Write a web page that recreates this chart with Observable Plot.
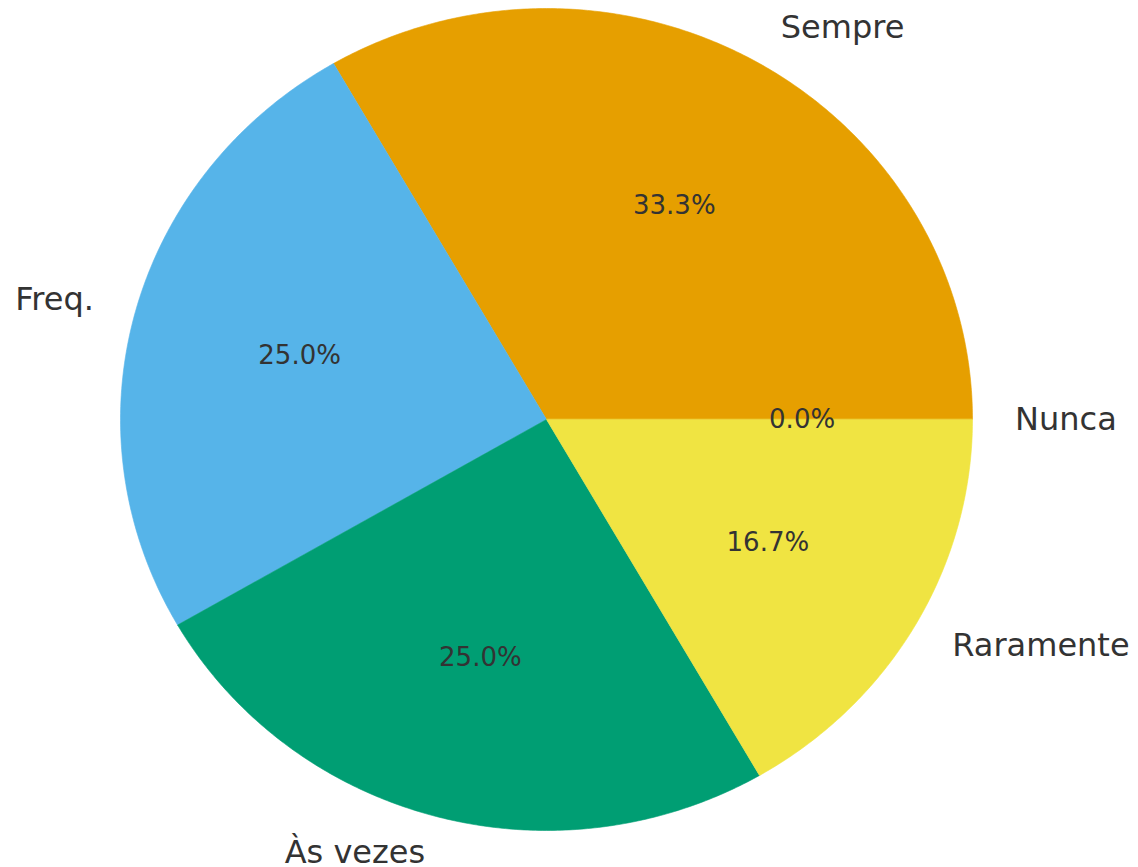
<!DOCTYPE html>
<html><head><meta charset="utf-8">
<script src="https://cdn.jsdelivr.net/npm/d3@7"></script>
<script src="https://cdn.jsdelivr.net/npm/@observablehq/plot@0.6"></script>
<style>body{margin:0;background:#fff} svg{display:block}</style>
</head><body><div id="chart"></div>
<script>
const categories = ["Nunca", "Sempre", "Freq.", "Às vezes", "Raramente"];
const values = [0, 4, 3, 3, 2];
const colors = ["#0072B2", "#E69F00", "#56B4E9", "#009E73", "#F0E442"];

const total = d3.sum(values);
const slices = [];
let acc = 0;
categories.forEach((c, i) => {
  const a0 = acc / total * 2 * Math.PI;
  acc += values[i];
  const a1 = acc / total * 2 * Math.PI;
  slices.push({cat: c, value: values[i], a0, a1, mid: (a0 + a1) / 2,
    pct: (values[i] / total * 100).toFixed(1) + "%"});
});

const poly = [];
for (const s of slices) {
  if (s.a1 <= s.a0) continue;
  poly.push({cat: s.cat, x: 0, y: 0});
  const n = Math.max(2, Math.ceil((s.a1 - s.a0) / (Math.PI / 360)));
  for (let k = 0; k <= n; k++) {
    const a = s.a0 + (s.a1 - s.a0) * k / n;
    poly.push({cat: s.cat, x: Math.cos(a), y: Math.sin(a)});
  }
}

const labels = slices.map(s => ({cat: s.cat, x: 1.1 * Math.cos(s.mid), y: 1.1 * Math.sin(s.mid), right: Math.cos(s.mid) >= 0}));
const pcts = slices.map(s => ({text: s.pct, x: 0.6 * Math.cos(s.mid), y: 0.6 * Math.sin(s.mid)}));

const W = 1138, H = 867, cx = 546, cy = 419, rx = 426, ry = 411;

const chart = Plot.plot({
  width: W, height: H,
  margin: 0,
  style: {fontFamily: "DejaVu Sans", background: "#fff"},
  x: {domain: [-cx / rx, (W - cx) / rx], range: [0, W], axis: null},
  y: {domain: [-(H - cy) / ry, cy / ry], range: [H, 0], axis: null},
  color: {domain: categories, range: colors},
  marks: [
    Plot.line(poly, {x: "x", y: "y", z: "cat", fill: "cat", stroke: "cat", strokeWidth: 0.6, curve: "linear-closed"}),
    Plot.text(pcts, {x: "x", y: "y", text: "text", fontSize: 26, fill: "#333", textAnchor: "middle"}),
    Plot.text(labels.filter(d => d.right), {x: "x", y: "y", text: "cat", fontSize: 32, fill: "#333", textAnchor: "start"}),
    Plot.text(labels.filter(d => !d.right), {x: "x", y: "y", text: "cat", fontSize: 32, fill: "#333", textAnchor: "end", dy: -3})
  ]
});
document.getElementById("chart").appendChild(chart);
</script>
</body></html>
